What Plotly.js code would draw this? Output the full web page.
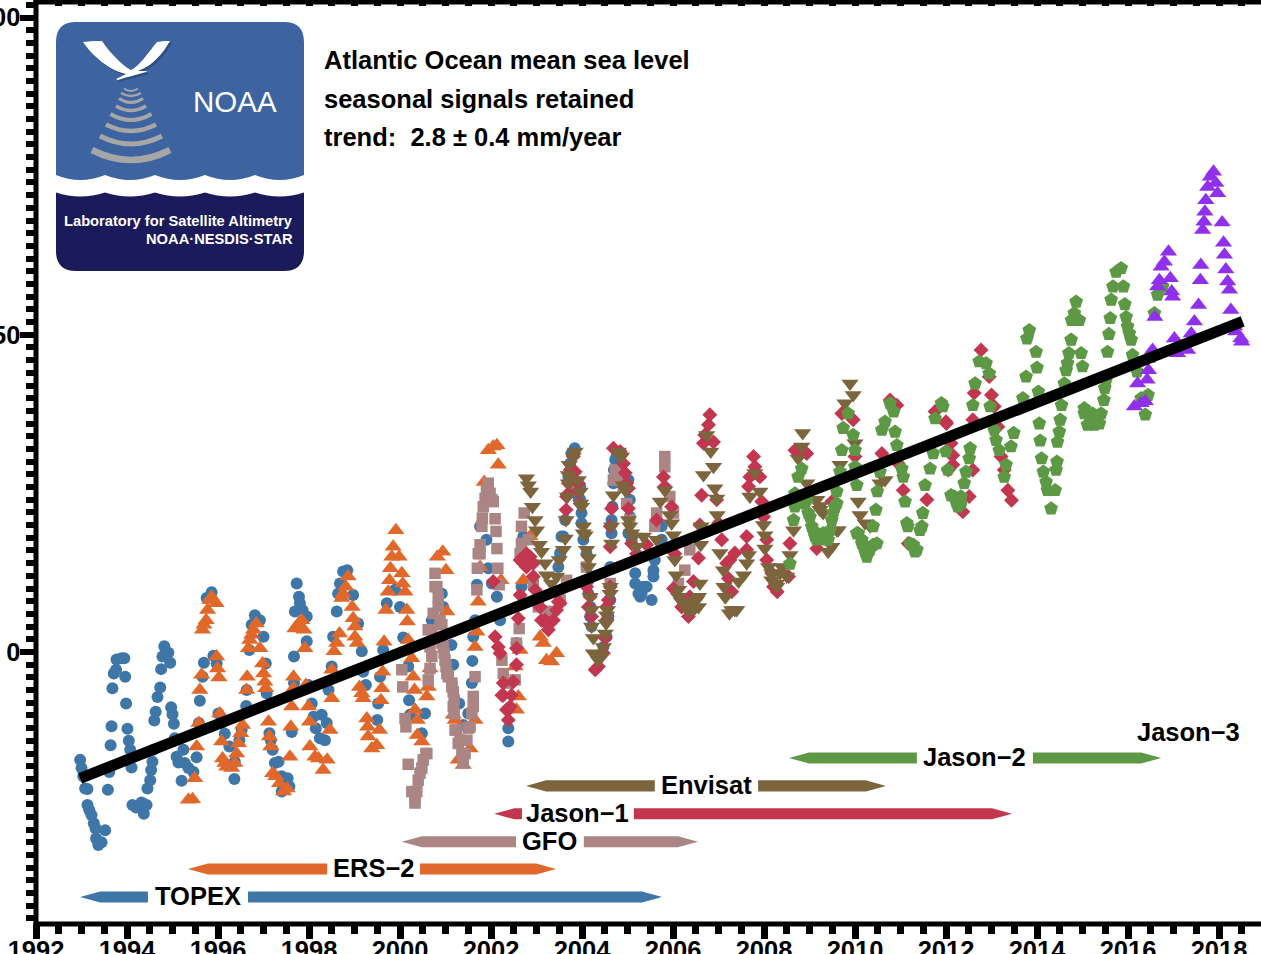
<!DOCTYPE html>
<html><head><meta charset="utf-8">
<script src="https://cdn.plot.ly/plotly-3.0.1.min.js"></script>
<style>html,body{margin:0;padding:0;background:#fff;overflow:hidden}#c{width:1261px;height:954px}</style>
</head><body><div id="c"></div>
<script>
// ---------- series values: decimal year and sea level in mm ----------
const topexYears=[1992.97,1993.00,1993.04,1993.08,1993.13,1993.13,1993.17,1993.22,1993.27,1993.31,1993.32,1993.37,1993.44,1993.52,1993.58,1993.61,1993.64,1993.66,1993.68,1993.71,1993.76,1993.77,1993.88,1993.94,1993.96,1993.98,1994.01,1994.04,1994.07,1994.10,1994.12,1994.20,1994.32,1994.37,1994.43,1994.37,1994.45,1994.51,1994.53,1994.56,1994.58,1994.60,1994.63,1994.67,1994.73,1994.75,1994.78,1994.82,1994.91,1994.95,1994.97,1995.00,1995.03,1995.05,1995.09,1995.13,1995.24,1995.27,1995.35,1995.20,1995.46,1995.53,1995.58,1995.60,1995.66,1995.69,1995.75,1995.86,1995.90,1995.97,1996.01,1996.08,1996.15,1996.25,1996.37,1996.36,1996.47,1996.52,1996.62,1996.63,1996.69,1996.74,1996.81,1996.92,1997.00,1997.05,1997.07,1997.13,1997.16,1997.20,1997.25,1997.33,1997.40,1997.53,1997.57,1997.40,1997.62,1997.67,1997.67,1997.69,1997.73,1997.78,1997.80,1997.86,1997.95,1997.95,1997.99,1998.06,1998.10,1998.15,1998.24,1998.28,1998.39,1998.35,1998.43,1998.50,1998.53,1998.61,1998.64,1998.68,1998.75,1998.84,1998.97,1999.08,1999.16,1999.19,1999.25,1999.50,1999.52,1999.56,1999.63,1999.71,1999.89,2000.00,2000.07,2000.18,2000.20,2000.22,2000.55,2000.48,2000.70,2000.92,2000.95,2001.13,2001.17,2001.30,2001.39,2001.50,2001.58,2001.59,2001.61,2001.65,2001.69,2001.76,2001.90,2001.94,2002.02,2002.13,2002.20,2002.38,2002.38,2002.56,2002.67,2002.71,2003.48,2003.52,2003.59,2003.84,2003.96,2003.96,2003.99,2004.10,2004.14,2004.18,2004.21,2004.47,2004.54,2004.62,2004.65,2004.73,2005.02,2005.05,2005.02,2005.17,2005.24,2005.75,2005.75,2005.60,2005.57,2005.35,2005.28,2005.53,2003.52,2003.55,2003.63,2003.70,2003.74,2003.77,2003.92,2003.99,2004.03,2004.10,2004.14,2004.19,2004.54,2004.58,2004.62,2004.65,2004.67,2004.69,2004.70,2004.76,2004.87,2004.95,2005.05,2005.09,2005.17,2005.57,2005.42,2005.31];
const topexMm=[-17.0,-18.3,-19.6,-21.5,-21.6,-24.1,-24.9,-25.7,-27.0,-27.8,-29.4,-30.4,-30.0,-28.1,-21.7,-18.9,-14.7,-11.7,-5.7,-3.4,-2.8,-1.2,-1.0,-1.0,-3.9,-8.1,-12.1,-14.0,-15.4,-18.2,-24.1,-24.5,-23.7,-24.4,-24.1,-25.5,-21.5,-20.2,-18.6,-17.3,-15.4,-10.8,-9.4,-7.1,-5.6,-2.7,-0.7,0.9,-0.1,-1.7,-8.7,-9.8,-11.3,-13.6,-16.5,-17.4,-15.4,-17.5,-18.3,-20.3,-18.9,-16.6,-11.2,-7.7,-3.9,-1.7,8.5,9.4,-0.6,-1.8,-9.7,-11.2,-12.9,-14.9,-17.3,-20.0,-13.9,-12.3,-8.5,-6.0,0.3,4.3,5.8,5.0,2.4,-1.8,-6.5,-12.8,-13.9,-15.4,-17.5,-17.3,-19.6,-19.9,-21.2,-22.0,-12.6,-4.9,-0.7,6.4,10.8,8.7,7.7,6.6,5.6,1.7,-5.2,-8.1,-10.2,-12.0,-13.6,-9.9,-11.2,-13.9,-6.0,-2.3,2.4,6.4,9.2,10.8,12.7,12.9,9.0,4.5,0.1,-3.1,-5.2,-10.7,-8.1,-3.9,0.3,7.7,9.8,7.1,2.3,-2.3,-7.6,-9.9,-9.7,-12.8,5.0,9.2,7.1,1.1,-2.0,-8.1,-11.5,-9.7,-4.9,-1.4,2.4,5.0,10.6,19.8,17.7,13.2,10.8,8.7,5.0,-12.0,-14.1,1.4,10.3,18.2,13.4,15.6,18.2,32.1,26.1,24.0,20.3,13.4,9.2,5.6,4.0,0.8,5.0,13.4,20.8,30.3,27.1,24.0,18.7,10.8,9.2,19.8,17.7,14.5,11.9,10.3,8.7,8.2,15.0,18.2,20.8,27.6,29.7,31.3,24.5,21.9,17.7,15.5,11.3,7.1,2.4,5.6,8.2,18.7,22.9,26.6,28.7,30.8,29.5,27.1,21.3,17.7,12.4,12.9,10.3,9.2];

const ers2Years=[1995.35,1995.44,1995.49,1995.53,1995.58,1995.60,1995.64,1995.66,1995.69,1995.74,1995.77,1995.82,1995.86,1995.96,1995.97,1995.99,1996.02,1996.04,1996.08,1996.10,1996.15,1996.19,1996.30,1996.37,1996.41,1996.45,1996.50,1996.54,1996.63,1996.64,1996.67,1996.70,1996.74,1996.78,1996.84,1996.92,1996.98,1997.00,1997.03,1997.05,1997.11,1997.13,1997.16,1997.20,1997.27,1997.35,1997.44,1997.52,1997.58,1997.60,1997.62,1997.66,1997.66,1997.69,1997.77,1997.84,1997.89,1997.91,1997.93,1997.99,1998.01,1998.02,1998.13,1998.21,1998.31,1998.40,1998.46,1998.50,1998.50,1998.55,1998.61,1998.67,1998.72,1998.75,1998.81,1998.86,1998.95,1998.97,1999.01,1999.01,1999.06,1999.11,1999.16,1999.19,1999.27,1999.29,1999.30,1999.38,1999.49,1999.55,1999.58,1999.60,1999.62,1999.65,1999.69,1999.74,1999.77,1999.79,1999.82,1999.85,1999.91,1999.98,2000.04,2000.06,2000.11,2000.15,2000.16,2000.18,2000.26,2000.29,2000.32,2000.33,2000.38,2000.38,2000.48,2000.59,2000.62,2000.66,2000.82,2000.94,2001.01,2001.03,2001.17,2001.21,2001.28,2001.39,2001.54,2001.65,2001.65,2001.69,2001.72,2001.76,2001.85,2001.94,2002.05,2002.13,2002.16,2002.22,2002.53,2002.56,2002.64,2002.60,2002.71,2002.86,2003.08,2003.15,2003.22,2003.33,2003.44];
const ers2Mm=[-23.3,-23.2,-19.9,-14.9,-11.2,-6.0,-3.6,3.5,4.3,5.0,6.6,8.2,8.7,7.7,-0.7,-2.6,-4.0,-9.7,-14.1,-16.8,-17.5,-18.1,-18.3,-17.5,-16.0,-14.4,-12.8,-11.5,-6.0,-3.9,0.6,1.9,2.7,3.5,4.5,0.6,-1.8,-3.4,-4.7,-5.7,-11.0,-13.3,-14.9,-19.1,-19.6,-20.7,-22.0,-21.5,-16.5,-11.8,-8.6,-5.7,-3.9,3.7,4.5,5.0,3.5,0.6,-5.2,-8.6,-11.0,-14.9,-16.5,-16.8,-18.6,-17.0,-12.3,-7.3,-2.8,0.1,1.4,2.9,8.5,9.2,10.3,11.9,7.1,5.3,4.0,2.4,1.4,-5.5,-6.5,-7.3,-10.5,-11.8,-13.3,-15.2,-14.7,-12.3,-7.6,-5.7,-3.1,1.6,6.6,9.5,11.3,13.2,15.0,16.6,19.2,15.0,12.4,10.8,9.5,6.6,4.8,1.9,-1.0,-3.9,-6.0,-9.1,-10.7,-13.1,-14.1,-7.0,-5.5,-2.6,15.0,15.8,12.9,6.4,-9.9,-10.7,-17.0,-17.8,-15.2,-10.7,0.8,3.2,7.9,13.4,26.8,31.8,32.4,32.6,29.5,11.3,-2.3,-9.1,0.3,-7.0,11.3,18.2,2.4,1.4,-1.3,-1.5,-0.2];

const gfoYears=[2000.04,2000.06,2000.11,2000.13,2000.18,2000.40,2000.33,2000.26,2000.48,2000.59,2000.62,2000.66,2000.70,2000.70,2000.73,2000.77,2000.81,2000.84,2000.92,2000.92,2000.99,2001.03,2001.14,2001.17,2001.17,2001.21,2001.28,2001.39,2001.50,2001.58,2001.61,2001.65,2001.69,2001.70,2001.72,2001.76,2001.80,2001.81,2001.87,2001.94,2002.05,2002.09,2002.11,2002.13,2002.15,2002.18,2002.24,2002.27,2002.38,2002.53,2002.56,2002.62,2002.67,2002.73,2002.82,2002.93,2003.04,2003.26,2003.52,2003.66,2003.88,2004.10,2004.62,2004.73,2004.87,2004.98,2005.05,2005.82,2005.64,2005.93,2006.01,2006.37,2006.26,2006.12,2005.82,2005.60,2000.77,2000.84,2000.88,2000.95,2000.97,2001.01,2001.06,2001.14,2001.19,2001.19,2001.24,2001.32,2001.36,2001.43,2001.47,2001.54,2001.61,2001.76,2001.83,2001.90,2002.02,2001.98,2000.44,2000.51,2000.57,2000.37,2000.33,2000.62,2000.66,2002.64,2002.67,2004.69,2004.80,2004.91];
const gfoMm=[-2.8,-5.5,-10.5,-11.8,-17.7,-20.2,-23.8,-22.0,-18.3,-16.0,-4.4,-2.6,-0.7,3.5,6.1,12.4,10.3,8.7,4.3,1.4,-1.3,-3.4,-4.9,-6.3,-8.6,-12.3,-14.4,-17.5,-12.0,-9.7,-7.0,-3.9,9.8,13.2,15.5,16.9,19.8,21.1,24.2,26.6,23.7,21.0,19.0,16.3,13.2,10.6,-1.3,-3.4,-4.9,-4.4,1.4,3.7,17.1,21.9,17.7,10.8,7.1,6.4,8.2,11.3,25.5,13.4,10.8,28.7,27.6,23.4,20.8,30.8,21.9,24.5,21.9,16.1,12.9,10.8,29.2,19.8,10.3,7.1,5.0,0.8,-0.2,-2.3,-3.9,-5.5,-7.6,-9.7,-12.3,-13.9,-16.0,-16.0,-13.9,-11.8,-8.6,15.5,22.9,25.5,24.0,25.0,-19.1,-17.0,-16.0,-22.0,-23.1,3.5,0.8,15.5,19.8,27.1,27.6,26.0];

const jason1Years=[2002.05,2002.09,2002.16,2002.20,2002.27,2002.38,2002.38,2002.45,2002.49,2002.56,2002.56,2002.60,2002.64,2002.71,2002.78,2002.86,2002.93,2002.97,2003.08,2003.19,2003.26,2003.44,2003.52,2003.65,2003.70,2003.74,2003.81,2003.85,2003.92,2003.96,2004.18,2004.21,2004.29,2004.36,2004.47,2004.51,2004.54,2004.58,2004.62,2004.62,2004.65,2004.69,2004.84,2004.95,2005.02,2005.02,2005.09,2005.20,2005.42,2005.64,2005.79,2005.82,2005.97,2006.04,2006.01,2006.19,2006.34,2006.37,2006.45,2006.56,2006.59,2006.63,2006.67,2006.70,2006.78,2006.81,2006.89,2006.96,2007.00,2007.07,2007.18,2007.25,2007.22,2007.29,2007.36,2007.62,2007.62,2007.66,2007.69,2007.77,2007.80,2007.91,2007.95,2007.99,2008.06,2008.06,2008.17,2008.21,2008.29,2008.54,2008.57,2008.68,2008.79,2008.94,2009.16,2009.49,2009.71,2009.96,2010.00,2010.59,2010.77,2010.92,2010.95,2011.06,2011.17,2011.58,2011.76,2012.01,2012.13,2012.05,2012.00,2012.11,2012.15,2012.15,2012.37,2012.51,2012.59,2012.59,2012.62,2012.77,2012.95,2013.00,2013.06,2013.14,2013.21,2013.28,2013.36,2013.44,2002.64,2002.78,2002.93,2003.11,2003.22,2003.37,2003.48,2002.27,2002.24,2002.34,2002.42,2004.10,2004.14,2003.66,2003.70,2003.92,2004.62,2004.54,2004.91,2004.98];
const jason1Mm=[11.1,2.4,0.8,-0.2,-6.8,-9.1,-10.7,-6.8,-4.7,-2.0,0.6,5.3,9.0,14.0,15.5,15.0,11.9,9.8,7.1,5.0,3.5,6.6,7.7,22.4,25.0,28.7,30.8,28.4,26.6,23.4,8.7,5.6,-2.8,-2.3,-0.2,2.2,5.0,8.2,16.6,19.8,22.6,32.1,31.6,28.2,25.8,22.6,17.1,15.5,16.9,20.8,27.6,26.1,22.9,15.5,10.0,7.1,5.6,8.7,11.1,14.8,20.0,24.7,32.9,34.2,35.8,37.4,33.1,24.0,20.3,17.7,14.0,14.5,11.6,9.5,15.6,16.1,18.2,26.1,27.6,30.8,29.2,27.6,23.7,21.3,17.7,14.5,12.4,10.3,9.5,11.9,17.1,31.8,31.6,31.3,16.3,23.7,37.6,36.6,30.8,31.3,39.7,38.9,29.7,25.5,17.1,24.0,37.9,36.0,31.0,28.7,36.3,32.9,31.0,29.5,22.1,24.5,28.7,36.6,40.8,47.6,43.4,40.5,38.7,35.5,30.8,28.7,25.5,23.9,14.5,13.4,14.0,5.0,4.5,5.0,7.9,-4.9,-6.8,-9.1,-8.6,10.3,7.1,24.5,26.6,25.3,10.3,7.1,29.7,26.6];

const envisatYears=[2002.78,2002.82,2002.87,2002.91,2002.97,2003.00,2003.06,2003.11,2003.19,2003.22,2003.33,2003.44,2003.50,2003.59,2003.63,2003.65,2003.68,2003.70,2003.81,2003.85,2003.92,2003.96,2003.97,2004.03,2004.07,2004.10,2004.14,2004.18,2004.21,2004.25,2004.32,2004.43,2004.51,2004.54,2004.62,2004.65,2004.65,2004.69,2004.80,2004.87,2004.91,2005.02,2005.09,2005.20,2005.35,2005.64,2005.72,2005.82,2005.93,2005.97,2006.01,2006.04,2006.07,2006.12,2006.19,2006.34,2006.48,2006.56,2006.59,2006.61,2006.62,2006.67,2006.74,2006.83,2006.89,2006.92,2006.96,2006.97,2007.03,2007.11,2007.12,2007.16,2007.24,2007.40,2007.44,2007.55,2007.62,2007.66,2007.69,2007.80,2007.91,2007.99,2008.02,2008.02,2008.10,2008.17,2008.28,2008.39,2008.50,2008.57,2008.65,2008.75,2008.83,2008.85,2008.94,2009.16,2009.23,2009.41,2009.63,2009.67,2009.78,2009.89,2009.96,2010.00,2010.07,2010.11,2010.22,2010.33,2010.66,2010.55,2003.72,2003.70,2003.99,2004.03,2004.14,2004.21,2004.25,2004.36,2004.47,2004.53,2004.62,2004.56,2004.84,2004.95,2005.05,2005.13,2006.12,2006.23,2006.37,2006.52,2006.56,2007.14,2007.29,2007.36,2008.17,2008.28,2008.35,2009.23,2009.30,2009.49,2009.60];
const envisatMm=[27.4,26.3,25.3,22.9,20.8,19.2,16.9,15.8,14.0,12.1,10.8,11.9,14.5,16.1,17.9,20.8,24.5,26.6,30.8,31.6,27.1,25.3,23.4,19.8,18.4,16.1,14.8,8.7,4.0,2.2,-0.7,-0.7,2.9,5.8,10.3,17.1,19.8,24.7,31.6,30.8,26.3,20.8,18.7,16.6,18.2,17.7,23.7,25.5,21.6,20.3,18.4,14.5,12.1,9.8,7.9,6.4,6.9,8.7,10.8,16.9,19.8,27.9,34.2,31.6,29.2,25.8,24.2,21.6,15.6,12.9,10.3,8.7,6.1,6.6,11.1,12.1,14.0,15.3,24.5,28.2,25.3,20.0,18.4,16.3,13.4,12.4,10.3,13.4,11.9,15.3,19.2,30.5,32.4,34.5,26.6,24.0,22.4,15.8,19.2,29.5,39.2,42.3,40.5,32.9,23.7,21.6,20.3,19.8,27.1,26.6,29.5,27.9,22.9,18.7,13.4,6.6,-0.2,-1.3,0.8,4.5,9.2,6.6,30.8,25.5,19.8,18.2,8.7,7.7,7.7,8.2,7.1,8.7,6.6,6.6,11.3,10.8,12.4,23.0,21.9,16.6,19.2];

const jason2Years=[2008.57,2008.65,2008.68,2008.68,2008.75,2008.83,2008.94,2009.01,2009.08,2009.16,2009.30,2009.41,2009.49,2009.56,2009.60,2009.67,2009.71,2009.74,2009.85,2009.96,2010.00,2010.00,2010.04,2010.04,2010.15,2010.22,2010.40,2010.40,2010.46,2010.49,2010.55,2010.59,2010.66,2010.77,2010.85,2010.88,2010.92,2011.03,2011.06,2011.10,2011.16,2011.28,2011.32,2011.43,2011.49,2011.54,2011.65,2011.72,2011.76,2011.90,2011.93,2012.00,2012.04,2012.11,2012.22,2012.33,2012.44,2012.51,2012.53,2012.59,2012.64,2012.73,2012.88,2012.95,2012.97,2013.06,2013.10,2013.17,2013.43,2013.32,2013.28,2013.49,2013.69,2013.76,2014.00,2013.98,2013.78,2013.83,2014.03,2014.05,2014.07,2014.10,2014.14,2014.20,2014.23,2014.31,2014.40,2014.42,2014.44,2014.45,2014.49,2014.51,2014.54,2014.60,2014.64,2014.67,2014.70,2014.75,2014.76,2014.82,2014.86,2014.93,2014.97,2015.00,2015.04,2015.11,2015.22,2015.37,2015.41,2015.47,2015.49,2015.55,2015.58,2015.61,2015.63,2015.67,2015.74,2015.85,2015.90,2015.93,2015.96,2015.99,2016.03,2016.07,2016.10,2016.20,2015.52,2016.44,2016.29,2016.38,2016.58,2016.65,2016.76,2016.51,2008.90,2008.97,2009.05,2009.12,2009.23,2009.34,2009.45,2009.52,2009.60,2010.07,2010.15,2010.26,2010.33,2010.48,2011.14,2011.21,2011.36,2011.47,2012.18,2012.26,2012.33,2012.40,2015.04,2015.15,2015.26,2015.33];
const jason2Mm=[13.9,20.8,22.9,25.0,27.6,28.9,24.0,21.3,19.2,17.7,18.7,17.7,20.8,22.9,25.3,28.4,31.8,35.3,37.6,34.2,31.8,29.2,26.3,18.7,17.7,15.8,16.9,19.8,22.4,25.3,28.4,35.0,36.3,39.2,37.9,34.7,32.6,28.9,27.6,23.7,19.8,16.9,15.8,19.2,21.9,26.3,28.9,31.3,36.8,39.2,38.7,31.6,28.7,24.7,23.7,23.4,28.4,30.5,32.1,38.9,42.3,45.8,45.5,43.9,38.7,35.0,33.4,31.8,32.4,29.5,27.6,34.5,40.0,43.4,44.8,47.3,49.4,50.7,41.0,36.0,33.3,30.5,28.4,26.8,25.5,22.6,25.5,28.7,30.0,33.1,34.7,36.6,38.9,42.3,44.4,45.5,47.1,49.2,52.3,53.4,55.2,52.3,47.1,45.0,38.4,35.8,37.6,36.0,37.6,39.7,41.6,47.3,50.1,52.6,55.5,57.6,59.9,60.5,57.6,54.8,52.8,51.3,50.2,49.2,46.8,44.2,42.9,40.5,40.0,37.4,53.4,56.3,57.6,46.5,23.4,21.9,19.8,18.2,18.2,17.7,19.2,21.9,23.4,18.7,17.1,15.0,16.1,17.1,20.3,17.1,16.1,19.8,24.5,22.9,24.5,26.6,37.6,37.1,35.8,37.1];

const jason3Years=[2016.14,2016.21,2016.29,2016.38,2016.42,2016.45,2016.54,2016.59,2016.65,2016.69,2016.73,2016.80,2016.89,2016.93,2016.96,2016.98,2017.02,2017.09,2017.31,2017.39,2017.46,2017.55,2017.59,2017.60,2017.64,2017.67,2017.69,2017.71,2017.75,2017.81,2017.88,2017.93,2017.97,2018.07,2018.10,2018.12,2018.15,2018.19,2018.23,2018.26,2018.34,2018.37,2018.48,2018.50];
const jason3Mm=[38.7,42.3,39.2,39.5,42.9,44.4,47.6,52.8,57.6,58.6,60.7,61.5,63.1,58.9,56.8,56.0,49.4,47.1,47.6,50.2,52.1,54.7,58.6,61.0,66.5,67.8,69.4,71.2,73.3,74.9,75.7,73.9,72.3,67.7,64.5,62.6,60.3,58.4,57.1,53.9,51.3,50.5,49.4,48.9];

const trendYears=[1992.97,2018.52];
const trendMm=[-19.9,52.1];

// mission timeline: tip-to-tip span, label gap, level (mm)
const missionNames=['TOPEX','ERS\u22122','GFO','Jason\u22121','Envisat','Jason\u22122'];
const missionStart=[1992.97,1995.34,2000.04,2002.07,2002.77,2008.55];
const missionEnd=[2005.76,2003.43,2006.55,2013.45,2010.68,2016.73];
const labelGapStart=[1994.46,1998.40,2002.55,2002.68,2005.60,2011.36];
const labelGapEnd=[1996.66,2000.44,2004.04,2005.14,2007.87,2013.91];
const missionLevel=[-38.6,-34.2,-29.9,-25.5,-21.1,-16.7];
const missionColors=['#3F76A8','#E1682B','#AB8484','#C23650','#7C653D','#5D9945'];

// ---------- layout geometry ----------
const W=1261,H=954,L=36,R=1261,T=2,B=924;
const pxYear=45.5,pxMm=6.345,y0px=652;
const xRange=[1992,1992+(R-L)/pxYear];
const yRange=[(y0px-B)/pxMm,(y0px-T)/pxMm];
const FONT='"Liberation Sans", Arial, Helvetica, sans-serif';
const px2x=p=>(p-L)/(R-L), px2y=p=>(B-p)/(B-T);
const pth=s=>s.replace(/(-?[\d.]+),(-?[\d.]+)/g,(m,a,b)=>px2x(+a).toFixed(5)+','+px2y(+b).toFixed(5));

// ---------- traces ----------
const headYr=0.44, halfH=0.87;
const traces=[];
missionNames.forEach((n,i)=>{
  const s=missionStart[i],e=missionEnd[i],g0=labelGapStart[i],g1=labelGapEnd[i],y=missionLevel[i];
  traces.push({type:'scatter',mode:'lines',xaxis:'x',yaxis:'y',hoverinfo:'skip',showlegend:false,
    fill:'toself',fillcolor:missionColors[i],line:{width:0,color:missionColors[i]},
    x:[s,s+headYr,g0,g0,s+headYr,s,null,g1,e-headYr,e,e-headYr,g1,g1],
    y:[y,y+halfH,y+halfH,y-halfH,y-halfH,y,null,y+halfH,y+halfH,y,y-halfH,y-halfH,y+halfH]});
});
function pts(x,y,symbol,size,color){
  traces.push({type:'scatter',mode:'markers',x,y,xaxis:'x',yaxis:'y',hoverinfo:'skip',showlegend:false,
    marker:{symbol,size,color,line:{width:0}}});
}
pts(topexYears,topexMm,'circle',12,'#3F76A8');
pts(ers2Years,ers2Mm,'triangle-up',15,'#E1682B');
pts(gfoYears,gfoMm,'square',11.5,'#AB8484');
pts(jason1Years,jason1Mm,'diamond',11.5,'#C23650');
pts(envisatYears,envisatMm,'triangle-down',15,'#7C653D');
pts(jason2Years,jason2Mm,'pentagon',14.5,'#5D9945');
pts(jason3Years,jason3Mm,'triangle-up',15,'#9030EC');
traces.push({type:'scatter',mode:'lines',x:trendYears,y:trendMm,xaxis:'x',yaxis:'y',hoverinfo:'skip',showlegend:false,
  line:{color:'#000',width:11}});
traces.push({type:'scatter',mode:'markers',x:[2000],y:[0],xaxis:'x2',yaxis:'y',hoverinfo:'skip',showlegend:false,
  marker:{opacity:0,size:1}});

// ---------- logo and frame shapes ----------
const fillShape=(d,c,op)=>({type:'path',xref:'paper',yref:'paper',path:pth(d),fillcolor:c,opacity:op==null?1:op,line:{width:0},layer:'above'});
const arc=(y0,ym,hw,w)=>({type:'path',xref:'paper',yref:'paper',layer:'above',fillcolor:'rgba(0,0,0,0)',line:{color:'#A6A6A6',width:w},
  path:pth(`M${131-hw},${y0} Q131,${2*ym-y0} ${131+hw},${y0}`)});
const wave=(y,c)=>`L304,${y} Q280,${c} 255,${y} Q230,${c} 205,${y} Q180,${c} 155,${y} Q130,${c} 105,${y} Q80,${c} 56,${y} Z`;
const topR='M56,42 Q56,22 76,22 L284,22 Q304,22 304,42 ';
const bird=(dx,dy)=>{const a=(x,y)=>(x+dx)+','+(y+dy);
  return `M${a(83,42)} C${a(90,41)} ${a(98,41)} ${a(102,41)} C${a(108,50)} ${a(120,64)} ${a(131,70)} C${a(140,66)} ${a(150,50)} ${a(157,42)} C${a(162,41)} ${a(166,41)} ${a(170,41)} C${a(162,55)} ${a(152,66)} ${a(138,71)} L${a(148,71)} C${a(142,74)} ${a(130,76)} ${a(118,80)} L${a(116,79)} L${a(126,74)} C${a(108,70)} ${a(92,55)} ${a(83,42)} Z`;};
const frame=(x0,y0,x1,y1)=>({type:'line',xref:'paper',yref:'paper',layer:'above',x0:px2x(x0),y0:px2y(y0),x1:px2x(x1),y1:px2y(y1),line:{color:'#000',width:5}});
const shapes=[
  frame(36,0,36,926.5),frame(33.5,924,1261,924),frame(33.5,2,1261,2),
  fillShape('M56,185 L304,185 L304,251 Q304,271 284,271 L76,271 Q56,271 56,251 Z','#1B1A5A'),
  fillShape(topR+wave(192.5,200.5),'#FFFFFF'),
  fillShape(topR+wave(175,185),'#3D64A1'),
  fillShape(bird(2,2),'#1F3560',0.45),
  fillShape(bird(0,0),'#FFFFFF'),
  arc(150,160,39,6.5),arc(136,144,31,5),arc(124.5,131,25,4.5),arc(114,120,20.5,4),
  arc(106,110.5,15,3.5),arc(98.5,102.5,12,3),arc(93,96,10,2.5),arc(88.5,91,7,2)
];

// ---------- text ----------
const bold=(size,color)=>({family:FONT,size,color:color||'#000',weight:700});
const noteP=(text,x,y,font,xanchor)=>({text,xref:'paper',yref:'paper',x:px2x(x),y:px2y(y),xanchor:xanchor||'left',yanchor:'middle',showarrow:false,font,borderpad:0,borderwidth:0});
const annotations=[
  noteP('Atlantic Ocean mean sea level',323.5,60,bold(25.5)),
  noteP('seasonal signals retained',323.5,99,bold(25.5)),
  noteP('trend:&nbsp;&nbsp;2.8 \u00B1 0.4 mm/year',323.5,137,bold(25.5)),
  noteP('NOAA',193,102,{family:FONT,size:29.5,color:'#FFFFFF'}),
  noteP('Laboratory for Satellite Altimetry',293,221,bold(14.7,'#FFFFFF'),'right'),
  noteP('NOAA\u00B7NESDIS\u00B7STAR',293,239,bold(14.7,'#FFFFFF'),'right')
];
missionNames.forEach((n,i)=>annotations.push({text:n,xref:'x',yref:'y',x:(labelGapStart[i]+labelGapEnd[i])/2,y:missionLevel[i]+0.1,
  xanchor:'center',yanchor:'middle',showarrow:false,font:bold(25.5)}));
annotations.push({text:'Jason\u22123',xref:'x',yref:'y',x:2017.33,y:-12.6,xanchor:'center',yanchor:'middle',showarrow:false,font:bold(25.5)});

const layout={
  width:W,height:H,autosize:false,showlegend:false,
  margin:{l:L,r:W-R,t:T,b:H-B,pad:0},
  paper_bgcolor:'#fff',plot_bgcolor:'#fff',
  xaxis:{range:xRange,autorange:false,dtick:2,tick0:1992,ticks:'outside',ticklen:14,tickwidth:7,tickcolor:'#000',
    showline:false,showgrid:false,zeroline:false,ticklabelstandoff:-11,
    tickfont:bold(25.5),tickformat:'d',
    minor:{dtick:0.5,tick0:1992,ticks:'outside',ticklen:9,tickwidth:7,tickcolor:'#000',showgrid:false}},
  xaxis2:{range:xRange,autorange:false,overlaying:'x',side:'top',anchor:'y',dtick:0.5,tick0:1992,ticks:'inside',ticklen:4,tickwidth:7,tickcolor:'#000',
    showline:false,showgrid:false,zeroline:false,showticklabels:false},
  yaxis:{range:yRange,autorange:false,tick0:0,dtick:50,ticks:'outside',ticklen:15.5,tickwidth:6,tickcolor:'#000',
    showline:false,showgrid:false,zeroline:false,ticklabelstandoff:-6,
    tickfont:bold(25.5),
    minor:{dtick:2,tick0:0,ticks:'outside',ticklen:9,tickwidth:6,tickcolor:'#000',showgrid:false}},
  shapes,annotations
};
Plotly.newPlot('c',traces,layout,{displayModeBar:false,staticPlot:true,responsive:false});
</script></body></html>
